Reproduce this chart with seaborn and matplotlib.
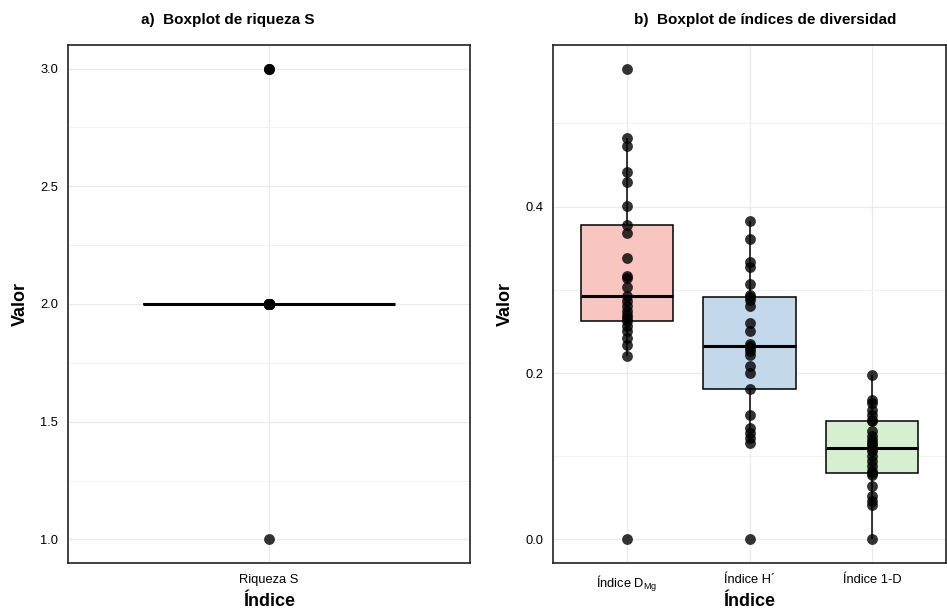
import pandas as pd
import numpy as np
import matplotlib
matplotlib.use("Agg")
import matplotlib.pyplot as plt
from matplotlib.ticker import MultipleLocator
import seaborn as sns

# -------------------------
# Data
# -------------------------
riqueza_label = "Riqueza S"
riqueza_vals = [1.0] + [2.0] * 21 + [3.0] * 3

indices = ["Índice D$_\\mathregular{Mg}$", "Índice H´", "Índice 1-D"]
dmg_vals = [0.000, 0.220, 0.234, 0.242, 0.250, 0.256, 0.262, 0.266, 0.270,
            0.274, 0.280, 0.287, 0.293, 0.304, 0.314, 0.317, 0.338, 0.368,
            0.378, 0.401, 0.430, 0.442, 0.473, 0.482, 0.566]
h_vals = [0.000, 0.116, 0.122, 0.128, 0.134, 0.150, 0.181, 0.200, 0.208,
          0.222, 0.226, 0.230, 0.233, 0.235, 0.250, 0.260, 0.280, 0.288,
          0.292, 0.294, 0.307, 0.328, 0.334, 0.361, 0.383]
simpson_vals = [0.000, 0.042, 0.046, 0.052, 0.064, 0.078, 0.080, 0.082, 0.088,
                0.094, 0.100, 0.106, 0.110, 0.113, 0.116, 0.120, 0.124, 0.130,
                0.142, 0.144, 0.150, 0.156, 0.164, 0.168, 0.198]
fill_colors = ["#F9C5C1", "#C3D8EA", "#D6EFD1"]

df_a = pd.DataFrame({"indice": riqueza_label, "valor": riqueza_vals})
df_b = pd.DataFrame({
    "indice": [indices[0]] * len(dmg_vals) + [indices[1]] * len(h_vals) + [indices[2]] * len(simpson_vals),
    "valor": dmg_vals + h_vals + simpson_vals,
})

# -------------------------
# Theme
# -------------------------
sns.set_theme(style="white")
plt.rcParams["font.family"] = ["Liberation Sans", "DejaVu Sans"]
plt.rcParams["text.color"] = "black"
plt.rcParams["axes.labelcolor"] = "black"

W, H = 947, 612
fig = plt.figure(figsize=(W / 100, H / 100), dpi=100)


def px_axes(l, t, r, b):
    return fig.add_axes([l / W, 1 - b / H, (r - l) / W, (b - t) / H])


ax_a = px_axes(68, 45, 470, 563)
ax_b = px_axes(553, 45, 946, 563)

box_kw = dict(width=0.75, showfliers=False, showcaps=False, linecolor="black",
              linewidth=1.1, saturation=1,
              medianprops=dict(linewidth=2.2, color="black"),
              whiskerprops=dict(linewidth=1.1, color="black"))
pt_kw = dict(jitter=False, color="black", alpha=0.8, size=7.8, linewidth=0, zorder=5)

# a) riqueza
sns.boxplot(data=df_a, x="indice", y="valor", color="white", ax=ax_a, **box_kw)
sns.stripplot(data=df_a, x="indice", y="valor", ax=ax_a, **pt_kw)
ax_a.set_xlim(-0.6, 0.6)
ax_a.set_ylim(0.9, 3.1)
ax_a.yaxis.set_minor_locator(MultipleLocator(0.25))
ax_a.set_yticks([1.0, 1.5, 2.0, 2.5, 3.0])
ax_a.set_yticklabels(["1.0", "1.5", "2.0", "2.5", "3.0"])

# b) diversidad
sns.boxplot(data=df_b, x="indice", y="valor", hue="indice", palette=fill_colors,
            legend=False, ax=ax_b, **box_kw)
sns.stripplot(data=df_b, x="indice", y="valor", ax=ax_b, **pt_kw)
ax_b.set_xlim(-0.6, 2.6)
ax_b.set_ylim(-0.0283, 0.5943)
ax_b.set_yticks([0.0, 0.2, 0.4])
ax_b.set_yticklabels(["0.0", "0.2", "0.4"])
ax_b.yaxis.set_minor_locator(MultipleLocator(0.1))

for ax in (ax_a, ax_b):
    ax.set_axisbelow(True)
    ax.grid(which="major", color="#EBEBEB", linewidth=1.0)
    ax.grid(which="minor", axis="y", color="#F2F2F2", linewidth=0.7)
    ax.tick_params(axis="both", which="both", length=0, labelsize=9.3, labelcolor="black")
    ax.tick_params(axis="x", pad=8)
    ax.tick_params(axis="y", pad=7)
    ax.tick_params(axis="y", which="minor", labelleft=False)
    for s in ax.spines.values():
        s.set_color("#222222")
        s.set_linewidth(1.2)
    ax.set_xlabel("Índice", fontsize=13, fontweight="bold")
    ax.xaxis.set_label_coords(0.5, (563 - 601) / 518)
    ax.xaxis.label.set_va("center")
    ax.set_ylabel("Valor", fontsize=13, fontweight="bold", labelpad=8)

fig.text(228 / W, 1 - 20 / H, "a)  Boxplot de riqueza S", ha="center", va="center",
         fontsize=11, fontweight="bold")
fig.text(765 / W, 1 - 20 / H, "b)  Boxplot de índices de diversidad", ha="center", va="center",
         fontsize=11, fontweight="bold")

fig.savefig("out.png", dpi=100, facecolor="white")
